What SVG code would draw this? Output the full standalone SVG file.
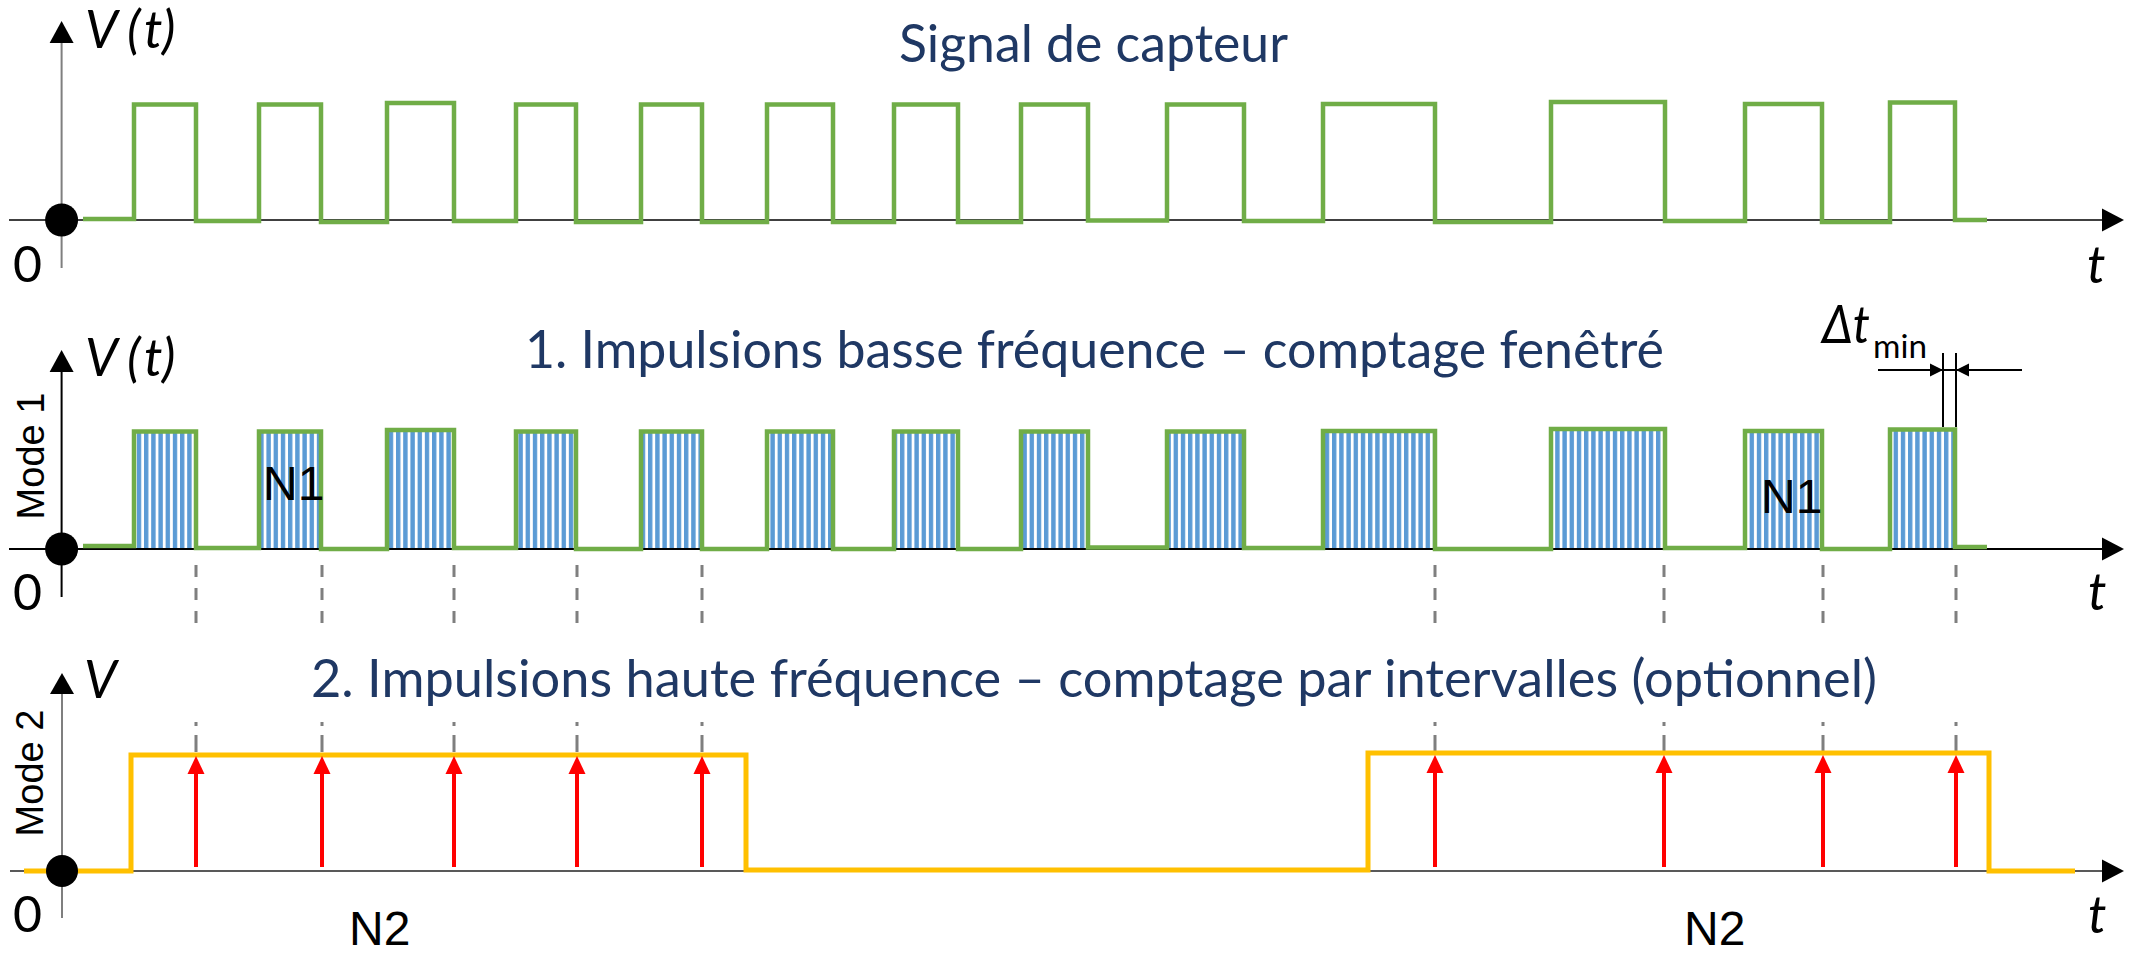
<svg xmlns="http://www.w3.org/2000/svg" xmlns:xlink="http://www.w3.org/1999/xlink" width="2138" height="953" viewBox="0 0 2138 953">
  <style>
    .title { font-family: Lato, "Open Sans", "DejaVu Sans", sans-serif; font-size: 53px; fill: #1F3864; }
    .math { font-family: Lato, "Open Sans", "DejaVu Sans", sans-serif; font-style: italic; font-size: 52px; fill: #000; }
    .zero { font-family: Lato, "Open Sans", sans-serif; font-size: 50px; fill: #000; }
    .lbl { font-family: "Liberation Sans", Arial, sans-serif; font-size: 48px; fill: #000; }
    .mode { font-family: "Liberation Sans", Arial, sans-serif; font-size: 38px; fill: #000; }
    .green { fill: none; stroke: #70AD47; stroke-width: 4.5; stroke-linejoin: miter; }
    .orange { fill: none; stroke: #FFC000; stroke-width: 5; stroke-linejoin: miter; }
    .dash { stroke: #7F7F7F; stroke-width: 3; fill: none; }
    .red { stroke: #FF0000; stroke-width: 4; }
    .dim { stroke: #000; stroke-width: 2; fill: none; }
  </style>
  <defs>
    <pattern id="hatch" width="7.2" height="20" patternUnits="userSpaceOnUse">
      <rect x="0" y="0" width="4.4" height="20" fill="#5B9BD5"/>
    </pattern>
    <!-- sensor square wave, reused for mode 1 -->
    <path id="wave" d="M83,219 H134 V104.5 H196 V221 H259 V104.5 H321 V222 H387 V103 H454 V221 H516 V104.5 H576 V222 H641 V104.5 H702 V222 H767 V104.5 H833 V222 H894 V104.5 H958 V222 H1021 V104.5 H1088 V220.5 H1167 V104.5 H1244 V221 H1323 V104 H1435 V222 H1551 V102 H1665 V221 H1745 V104 H1822 V222 H1890 V102.5 H1955 V220 H1987"/>
  </defs>
  <rect width="2138" height="953" fill="#fff"/>

  <!-- Row 1: sensor signal -->
  <g id="row-capteur">
    <line x1="61.6" y1="268" x2="61.6" y2="40" stroke="#7F7F7F" stroke-width="2"/>
    <polygon points="61.6,21 49.6,43 73.6,43" fill="#000"/>
    <line x1="9" y1="220" x2="2105" y2="220" stroke="#404040" stroke-width="2"/>
    <polygon points="2124,220 2102,208.5 2102,231.5" fill="#000"/>
    <use xlink:href="#wave" class="green"/>
    <circle cx="61.6" cy="220" r="16.5" fill="#000"/>
    <text class="math" y="48"><tspan x="85">V</tspan><tspan x="127">(</tspan><tspan x="144">t</tspan><tspan x="162">)</tspan></text>
    <text class="zero" x="13" y="282">0</text>
    <text class="math" x="2087" y="283">t</text>
    <text class="title" x="899" y="62" textLength="389" lengthAdjust="spacingAndGlyphs">Signal de capteur</text>
  </g>

  <!-- Row 2: mode 1, windowed counting -->
  <g id="row-mode1">
    <g id="hatching" fill="url(#hatch)">
      <rect x="134" y="431" width="62" height="117"/>
      <rect x="259" y="431" width="62" height="117"/>
      <rect x="387" y="431" width="67" height="117"/>
      <rect x="516" y="431" width="60" height="117"/>
      <rect x="641" y="431" width="61" height="117"/>
      <rect x="767" y="431" width="66" height="117"/>
      <rect x="894" y="431" width="64" height="117"/>
      <rect x="1021" y="431" width="67" height="117"/>
      <rect x="1167" y="431" width="77" height="117"/>
      <rect x="1323" y="431" width="112" height="117"/>
      <rect x="1551" y="429" width="114" height="119"/>
      <rect x="1745" y="431" width="77" height="117"/>
      <rect x="1890" y="430" width="65" height="118"/>
    </g>
    <line x1="61.6" y1="597" x2="61.6" y2="368" stroke="#000" stroke-width="2"/>
    <polygon points="61.6,350 49.6,372 73.6,372" fill="#000"/>
    <line x1="9" y1="549" x2="2105" y2="549" stroke="#000" stroke-width="2"/>
    <polygon points="2124,549 2102,537.5 2102,560.5" fill="#000"/>
    <use xlink:href="#wave" class="green" transform="translate(0,327)"/>
    <circle cx="61.6" cy="549" r="16.5" fill="#000"/>
    <text class="mode" transform="translate(44,456) rotate(-90)" text-anchor="middle">Mode 1</text>
    <text class="math" y="376"><tspan x="85">V</tspan><tspan x="127">(</tspan><tspan x="144">t</tspan><tspan x="162">)</tspan></text>
    <text class="zero" x="13" y="610">0</text>
    <text class="math" x="2088" y="610">t</text>
    <text class="lbl" x="263" y="500">N1</text>
    <text class="lbl" x="1761" y="513">N1</text>
    <text class="title" x="525" y="368" textLength="1139" lengthAdjust="spacingAndGlyphs">1. Impulsions basse fréquence – comptage fenêtré</text>
  </g>

  <!-- Minimum interval dimension -->
  <g id="delta-tmin">
    <line class="dim" x1="1943" y1="353" x2="1943" y2="427"/>
    <line class="dim" x1="1956" y1="353" x2="1956" y2="427"/>
    <line class="dim" x1="1878" y1="370" x2="2022" y2="370"/>
    <polygon points="1943,370 1930,363.5 1930,376.5" fill="#000"/>
    <polygon points="1956,370 1969,363.5 1969,376.5" fill="#000"/>
    <text class="math" x="1822" y="343" font-size="48" textLength="48" lengthAdjust="spacingAndGlyphs">Δt</text>
    <text x="1873" y="358" font-family="Lato, 'Open Sans', sans-serif" font-size="33" textLength="54" lengthAdjust="spacingAndGlyphs">min</text>
  </g>

  <!-- Guides from the falling edges -->
  <g id="connectors">
    <g class="dash" stroke-dasharray="12 11">
      <line x1="196" y1="565" x2="196" y2="625"/>
      <line x1="322" y1="565" x2="322" y2="625"/>
      <line x1="454" y1="565" x2="454" y2="625"/>
      <line x1="577" y1="565" x2="577" y2="625"/>
      <line x1="702" y1="565" x2="702" y2="625"/>
      <line x1="1435" y1="565" x2="1435" y2="625"/>
      <line x1="1664" y1="565" x2="1664" y2="625"/>
      <line x1="1823" y1="565" x2="1823" y2="625"/>
      <line x1="1956" y1="565" x2="1956" y2="625"/>
    </g>
    <g class="dash" stroke-dasharray="17 9">
      <line x1="196" y1="752" x2="196" y2="722"/>
      <line x1="322" y1="752" x2="322" y2="722"/>
      <line x1="454" y1="752" x2="454" y2="722"/>
      <line x1="577" y1="752" x2="577" y2="722"/>
      <line x1="702" y1="752" x2="702" y2="722"/>
      <line x1="1435" y1="752" x2="1435" y2="722"/>
      <line x1="1664" y1="752" x2="1664" y2="722"/>
      <line x1="1823" y1="752" x2="1823" y2="722"/>
      <line x1="1956" y1="752" x2="1956" y2="722"/>
    </g>
  </g>

  <!-- Row 3: mode 2, interval counting -->
  <g id="row-mode2">
    <line x1="62" y1="918" x2="62" y2="690" stroke="#7F7F7F" stroke-width="2"/>
    <polygon points="62,673 50,694 74,694" fill="#000"/>
    <line x1="10" y1="871" x2="2105" y2="871" stroke="#595959" stroke-width="2"/>
    <polygon points="2124,871 2102,859.5 2102,882.5" fill="#000"/>
    <path class="orange" d="M24,871 H131 V755 H746 V870 H1368 V753 H1989 V871 H2075"/>
    <g id="pulses">
      <g class="red">
        <line x1="196" y1="867" x2="196" y2="770"/>
        <line x1="322" y1="867" x2="322" y2="770"/>
        <line x1="454" y1="867" x2="454" y2="770"/>
        <line x1="577" y1="867" x2="577" y2="770"/>
        <line x1="702" y1="867" x2="702" y2="770"/>
        <line x1="1435" y1="867" x2="1435" y2="770"/>
        <line x1="1664" y1="867" x2="1664" y2="770"/>
        <line x1="1823" y1="867" x2="1823" y2="770"/>
        <line x1="1956" y1="867" x2="1956" y2="770"/>
      </g>
      <g fill="#FF0000">
        <polygon points="196,756 187.5,774 204.5,774"/>
        <polygon points="322,756 313.5,774 330.5,774"/>
        <polygon points="454,756 445.5,774 462.5,774"/>
        <polygon points="577,756 568.5,774 585.5,774"/>
        <polygon points="702,756 693.5,774 710.5,774"/>
        <polygon points="1435,755 1426.5,773 1443.5,773"/>
        <polygon points="1664,755 1655.5,773 1672.5,773"/>
        <polygon points="1823,755 1814.5,773 1831.5,773"/>
        <polygon points="1956,755 1947.5,773 1964.5,773"/>
      </g>
    </g>
    <circle cx="62" cy="871" r="16" fill="#000"/>
    <text class="mode" transform="translate(43,773) rotate(-90)" text-anchor="middle">Mode 2</text>
    <text class="math" x="84" y="698">V</text>
    <text class="zero" x="13" y="932">0</text>
    <text class="math" x="2088" y="933">t</text>
    <text class="lbl" x="349" y="945">N2</text>
    <text class="lbl" x="1684" y="945">N2</text>
    <text class="title" x="311" y="697" textLength="1566" lengthAdjust="spacingAndGlyphs">2. Impulsions haute fréquence – comptage par intervalles (optionnel)</text>
  </g>
</svg>
